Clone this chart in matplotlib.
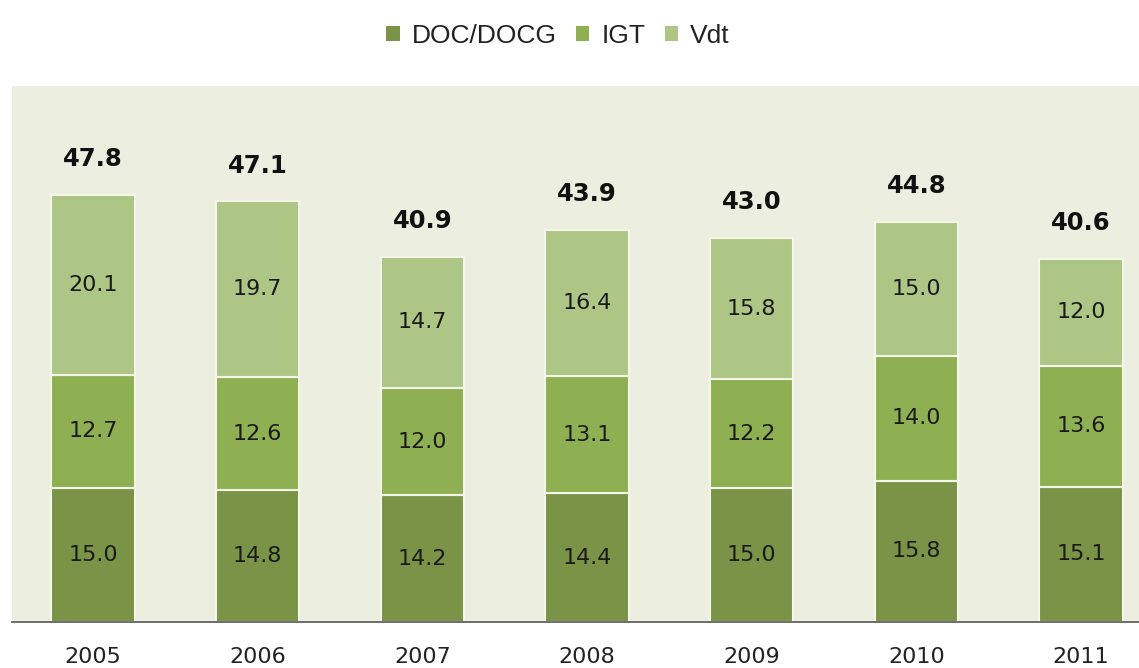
import numpy as np
import matplotlib.pyplot as plt

years = ['2005', '2006', '2007', '2008', '2009', '2010', '2011']
doc_docg = [15.0, 14.8, 14.2, 14.4, 15.0, 15.8, 15.1]
igt = [12.7, 12.6, 12.0, 13.1, 12.2, 14.0, 13.6]
vdt = [20.1, 19.7, 14.7, 16.4, 15.8, 15.0, 12.0]
totals = [47.8, 47.1, 40.9, 43.9, 43.0, 44.8, 40.6]

series = [('DOC/DOCG', doc_docg, '#7a9346'),
          ('IGT', igt, '#8fb052'),
          ('Vdt', vdt, '#adc585')]

plt.rcParams['font.family'] = ['DejaVu Sans']

fig = plt.figure(figsize=(11.39, 6.68), dpi=100)
ax = fig.add_axes([0.0105, 0.069, 0.9895, 0.802])
ax.set_facecolor('#eceee0')

x = np.arange(len(years))
width = 0.505
bottom = np.zeros(len(years))

for name, values, color in series:
    values = np.array(values)
    ax.bar(x, values, width, bottom=bottom, color=color, edgecolor='#f4f6ea',
           linewidth=1.5, label=name, zorder=2)
    for xi, b, v in zip(x, bottom, values):
        ax.text(xi, b + v / 2, f'{v:.1f}', ha='center', va='center',
                fontsize=16, color='#1a1a1a', zorder=3)
    bottom += values

for xi, top, total in zip(x, bottom, totals):
    ax.text(xi, top + 4.0, f'{total:.1f}', ha='center', va='center',
            fontsize=17.5, fontweight='bold', color='#111111')

ax.set_xlim(-0.492, 6.352)
ax.set_ylim(0, 60)
ax.set_xticks(x)
ax.set_xticklabels(years, fontsize=16, color='#222222')
ax.tick_params(axis='x', length=0, pad=18)
ax.set_yticks([])

for side in ['top', 'right', 'left']:
    ax.spines[side].set_visible(False)
ax.spines['bottom'].set_color('#555555')
ax.spines['bottom'].set_linewidth(1.2)

leg = fig.legend(loc='upper center', bbox_to_anchor=(0.49, 1.0), ncol=3,
                 frameon=False, prop={'family': 'Liberation Sans', 'size': 19},
                 handlelength=0.5, handleheight=0.5, handletextpad=0.45,
                 columnspacing=0.75)
for h in leg.legend_handles:
    h.set_edgecolor('none')
for t in leg.get_texts():
    t.set_color('#222222')

fig.savefig('out.png', dpi=100, facecolor='white')
